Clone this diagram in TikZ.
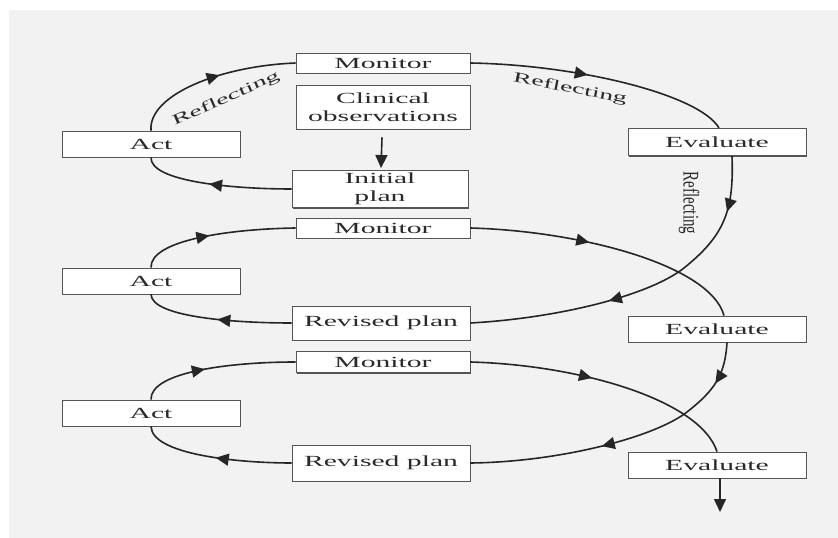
\documentclass[tikz,border=0pt]{standalone}
\usepackage{fontspec}
\setmainfont{Liberation Serif}[FakeStretch=1.92]
\newfontfamily\plainserif{Liberation Serif}
\usetikzlibrary{arrows.meta,decorations.markings,shadows}
\definecolor{bg}{HTML}{F2F2F2}
\definecolor{ln}{HTML}{262626}
\definecolor{bd}{HTML}{555555}
\definecolor{tx}{HTML}{2A2A2A}
\tikzset{
  box/.style={draw=bd, line width=0.9bp, fill=white, inner sep=0pt, text=tx,
    font=\fontsize{15.5}{18}\selectfont, align=center,
    drop shadow={shadow xshift=1.3bp, shadow yshift=-1.3bp, fill=bd, opacity=1}},
  conn/.style={draw=ln, color=ln, line width=1.6bp},
  midarrow/.style={postaction={decorate}, decoration={markings,
    mark=at position #1 with {\arrow{Triangle[length=13bp,width=12bp]}}}},
  twoarrows/.style 2 args={postaction={decorate}, decoration={markings,
    mark=at position #1 with {\arrow{Triangle[length=13bp,width=12bp]}},
    mark=at position #2 with {\arrow{Triangle[length=13bp,width=12bp]}}}},
  lbl/.style={text=tx, font=\fontsize{14.5}{18}\selectfont, inner sep=0pt},
  vlbl/.style={text=tx, font=\plainserif\fontsize{15}{18}\selectfont, inner sep=0pt},
}
\begin{document}
\begin{tikzpicture}[x=1bp, y=-1bp]
\useasboundingbox (0,0) rectangle (838,538);
\fill[white] (0,0) rectangle (838,538);
\fill[bg] (9,10) rectangle (838,538);

% boxes
\node[box, minimum width=174bp, minimum height=20bp] (mon1) at (383,63) {Monitor};
\node[box, minimum width=174bp, minimum height=44bp] (clin) at (383,107) {Clinical\\observations};
\node[box, minimum width=176bp, minimum height=37bp] (init) at (380,189) {Initial\\plan};
\node[box, minimum width=178bp, minimum height=26bp] (act1) at (151,144) {Act};
\node[box, minimum width=178bp, minimum height=27bp] (eval1) at (717,142) {Evaluate};

\node[box, minimum width=174bp, minimum height=20bp] (mon2) at (383,228) {Monitor};
\node[box, minimum width=178bp, minimum height=26bp] (act2) at (151,281) {Act};
\node[box, minimum width=178bp, minimum height=34bp] (rev1) at (381,323) {Revised plan};
\node[box, minimum width=178bp, minimum height=26bp] (eval2) at (717,329) {Evaluate};

\node[box, minimum width=174bp, minimum height=21bp] (mon3) at (383,362) {Monitor};
\node[box, minimum width=178bp, minimum height=26bp] (act3) at (151,413) {Act};
\node[box, minimum width=178bp, minimum height=36bp] (rev2) at (381,463) {Revised plan};
\node[box, minimum width=178bp, minimum height=26bp] (eval3) at (717,465) {Evaluate};

\coordinate (fin) at (720,512);

% loop 1
\draw[conn, midarrow=0.55] (act1.north) .. controls (148,95) and (220,66) .. (mon1.west);
\draw[conn, midarrow=0.55] (init.west) .. controls (235,189) and (150,182) .. (act1.south);
\draw[conn, midarrow=0.45] (mon1.east) .. controls (580,65) and (700,95) .. ([xshift=2bp]eval1.north);
\draw[conn, twoarrows={0.16}{0.6}] ([xshift=15bp]eval1.south) .. controls (734,210) and (725,235) .. (684,268)
   .. controls (650,295) and (560,318) .. (rev1.east);
\draw[conn, -{Triangle[length=13bp,width=12bp]}] ([xshift=-1bp,yshift=-8bp]clin.south) -- ([xshift=1bp,yshift=2bp]init.north);

% loop 2
\draw[conn, midarrow=0.43] (mon2.east) .. controls (580,231) and (710,265) .. ([xshift=7bp]eval2.north);
\draw[conn, midarrow=0.5] (rev1.west) .. controls (240,323) and (152,318) .. (act2.south);
\draw[conn, midarrow=0.45] (act2.north) .. controls (150,240) and (230,229) .. (mon2.west);
\draw[conn, twoarrows={0.14}{0.57}] ([xshift=10bp]eval2.south) .. controls (725,375) and (715,390) .. (687,412)
   .. controls (655,437) and (560,462) .. (rev2.east);

% loop 3
\draw[conn, midarrow=0.45] (mon3.east) .. controls (580,365) and (700,400) .. (eval3.north);
\draw[conn, midarrow=0.5] (rev2.west) .. controls (240,463) and (152,455) .. (act3.south);
\draw[conn, midarrow=0.42] (act3.north) .. controls (150,372) and (230,362) .. (mon3.west);
\draw[conn, -{Triangle[length=13bp,width=12bp]}] ([xshift=3bp]eval3.south) -- (fin);

% labels
\node[lbl, rotate=24] (r1) at (226,99) {Reflecting};
\node[lbl, rotate=-11] (r2) at (570,89) {Reflecting};
\node[vlbl, rotate=-90] (r3) at (689,203) {\scalebox{1}[1.5]{Reflecting}};
\end{tikzpicture}
\end{document}
